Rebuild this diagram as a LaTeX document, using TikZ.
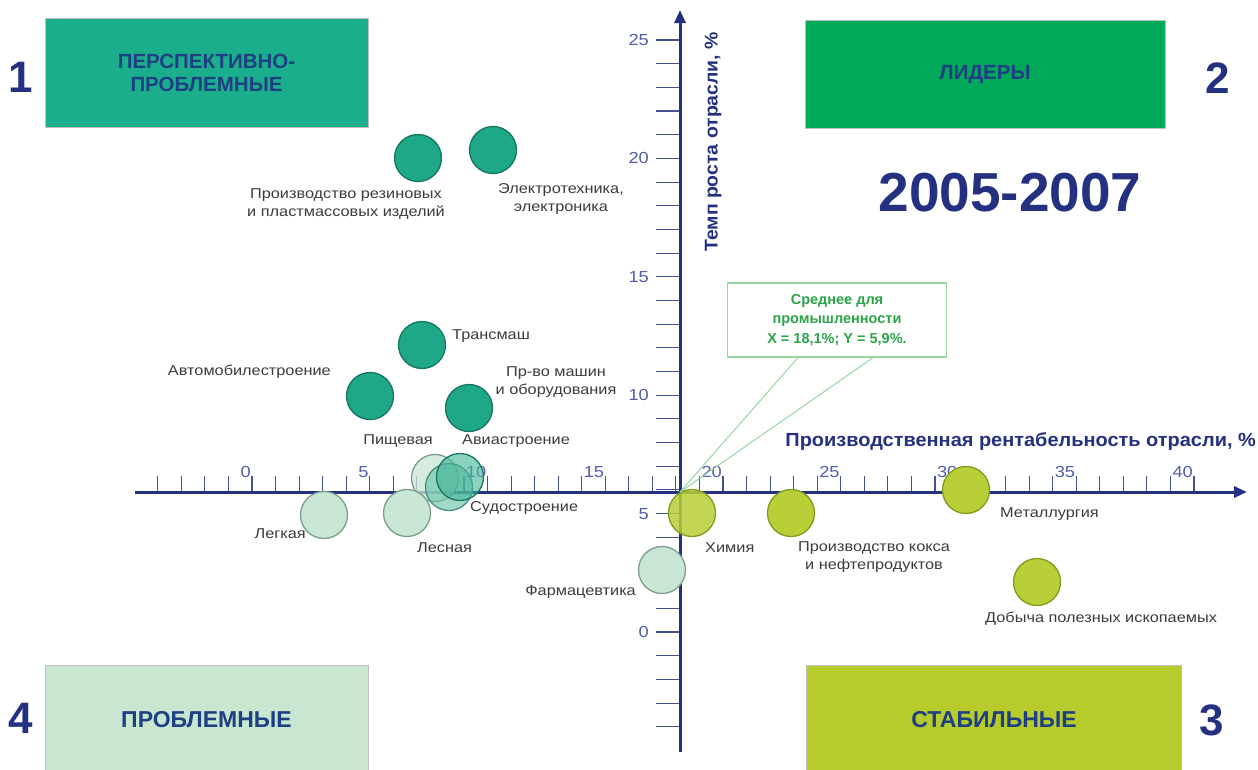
\documentclass[tikz,border=0pt]{standalone}
\usepackage{fontspec}
\setmainfont{Liberation Sans}
\newfontfamily\lblfont[FakeStretch=1.14]{Liberation Sans}
\newfontfamily\titlefont[FakeStretch=1.05]{Liberation Sans}
\usetikzlibrary{arrows.meta}

\definecolor{navy}{RGB}{36,48,128}
\definecolor{ticktext}{RGB}{84,94,170}
\definecolor{boxtext}{RGB}{30,64,130}
\definecolor{qteal}{RGB}{26,174,140}
\definecolor{qgreen}{RGB}{0,168,89}
\definecolor{qpale}{RGB}{200,230,208}
\definecolor{qlime}{RGB}{183,204,44}
\definecolor{bubdark}{RGB}{30,168,136}
\definecolor{bubdarkline}{RGB}{22,118,98}
\definecolor{bubpale}{RGB}{202,230,212}
\definecolor{bubpaleline}{RGB}{120,160,140}
\definecolor{bublime}{RGB}{186,206,56}
\definecolor{bublimeline}{RGB}{128,156,30}
\definecolor{lbltext}{RGB}{60,60,60}
\definecolor{avgtext}{RGB}{44,164,72}
\definecolor{avgline}{RGB}{150,214,165}

\tikzset{
  qbox/.style={rectangle, inner sep=0pt, draw=black!25, line width=0.8pt,
    text=boxtext, align=center, font=\bfseries\fontsize{20.5}{23}\selectfont},
  qnum/.style={inner sep=0pt, text=navy, font=\bfseries\fontsize{44}{44}\selectfont},
  bub/.style={circle, minimum size=47pt, inner sep=0pt, line width=1.3pt},
  darkbub/.style={bub, fill=bubdark, draw=bubdarkline},
  palebub/.style={bub, fill=bubpale, draw=bubpaleline},
  limebub/.style={bub, fill=bublime, draw=bublimeline},
  lbl/.style={inner sep=0pt, text=lbltext, align=center,
    font=\lblfont\fontsize{14.3}{18}\selectfont},
  axisline/.style={draw=navy, line width=3pt, -{Triangle[length=13pt,width=11pt]}},
  tickline/.style={draw=navy!85, line width=1.1pt},
  ticklbl/.style={inner sep=0pt, text=ticktext, font=\lblfont\fontsize{16}{16}\selectfont},
  axtitle/.style={inner sep=0pt, text=navy, font=\titlefont\bfseries\fontsize{19}{19}\selectfont},
  calloutline/.style={draw=avgline, line width=1pt},
}

\begin{document}
\begin{tikzpicture}[x=1pt,y=-1pt]
\useasboundingbox (0,0) rectangle (1258,769);
\fill[white] (0,0) rectangle (1258,769);

% quadrant headers
\node[qbox, fill=qteal, minimum width=323pt, minimum height=109pt] (q1) at (206.5,72.5)
  {ПЕРСПЕКТИВНО-\\ПРОБЛЕМНЫЕ};
\node[qbox, fill=qgreen, minimum width=360pt, minimum height=108pt] (q2) at (985,74) {ЛИДЕРЫ};
\node[qbox, fill=qpale, minimum width=323pt, minimum height=110pt,
      font=\bfseries\fontsize{23}{23}\selectfont] (q4) at (206.5,720) {ПРОБЛЕМНЫЕ};
\node[qbox, fill=qlime, minimum width=375pt, minimum height=110pt,
      font=\bfseries\fontsize{23}{23}\selectfont] (q3) at (994,720) {СТАБИЛЬНЫЕ};
\node[qnum] (n1) at (21,77) {1};
\node[qnum] (n2) at (1218,78) {2};
\node[qnum] (n4) at (21,718) {4};
\node[qnum] (n3) at (1212,720) {3};

% period
\node[inner sep=0pt, text=navy, font=\bfseries\fontsize{55}{55}\selectfont] (period) at (1010,193) {2005-2007};

% axes: x = 252 + 23.55 v, y = 632 - 23.68 v
\coordinate (xstart) at (135,492);
\coordinate (xend) at (1247,492);
\coordinate (ystart) at (680,752);
\coordinate (yend) at (680,10);
\coordinate (origin) at (680,492);

\foreach \v in {-4,...,40} {
  \draw[tickline] ({252+23.55*\v},492) -- ++(0,-16);
}
\foreach \v in {0,5,...,40} {
  \node[ticklbl, anchor=south east] (xl\v) at ({251+23.55*\v},478) {\v};
}
\foreach \v in {-4,...,25} {
  \draw[tickline] (656,{632-23.68*\v}) -- (680,{632-23.68*\v});
}
\foreach \v in {0,5,...,25} {
  \node[ticklbl, anchor=east] (yl\v) at (649,{632-23.68*\v}) {\v};
}
\draw[axisline] (xstart) -- (xend);
\draw[axisline] (ystart) -- (yend);

\node[axtitle, anchor=south east] (xtitle) at (1256,451) {Производственная рентабельность отрасли, \%};
\node[axtitle, rotate=90, font=\titlefont\bfseries\fontsize{18.5}{18.5}\selectfont] (ytitle) at (713,142) {Темп роста отрасли, \%};

% industry bubbles
\node[darkbub] (rubber) at (418,158) {};
\node[darkbub] (electro) at (493,150) {};
\node[darkbub] (transm) at (422,345) {};
\node[darkbub] (auto) at (370,396) {};
\node[darkbub] (machine) at (469,408) {};

\node[palebub, fill opacity=0.75] (food) at (435,478) {};
\node[bub, fill=bubdark!60!bubpale, draw=bubdarkline!80, fill opacity=0.6] (ship) at (449,487) {};
\node[bub, fill=bubdark!80!bubpale, draw=bubdarkline, fill opacity=0.6] (aero) at (460,477) {};

\node[palebub] (light) at (324,515) {};
\node[palebub] (forest) at (407,513) {};
\node[palebub] (pharma) at (662,570) {};

\node[limebub, fill opacity=0.85] (chem) at (692,513) {};
\node[limebub] (coke) at (791,513) {};
\node[limebub] (metal) at (966,490) {};
\node[limebub] (mining) at (1037,582) {};

% bubble captions
\node[lbl] (rubberl) at (346,204) {Производство резиновых\\и пластмассовых изделий};
\node[lbl] (electrol) at (561,199) {Электротехника,\\электроника};
\node[lbl, anchor=west] (transml) at (452,336) {Трансмаш};
\node[lbl, anchor=east] (autol) at (331,372) {Автомобилестроение};
\node[lbl] (machinel) at (556,382) {Пр-во машин\\и оборудования};
\node[lbl, anchor=east] (foodl) at (433,441) {Пищевая};
\node[lbl, anchor=west] (aerol) at (462,441) {Авиастроение};
\node[lbl, anchor=west] (shipl) at (470,508) {Судостроение};
\node[lbl, anchor=east] (lightl) at (306,534) {Легкая};
\node[lbl, anchor=west] (forestl) at (417,548) {Лесная};
\node[lbl, anchor=east] (pharmal) at (636,592) {Фармацевтика};
\node[lbl, anchor=west] (cheml) at (705,548) {Химия};
\node[lbl] (cokel) at (874,557) {Производство кокса\\и нефтепродуктов};
\node[lbl, anchor=west] (metall) at (1000,514) {Металлургия};
\node[lbl, anchor=west] (miningl) at (985,619) {Добыча полезных ископаемых};

% industry average callout
\node[rectangle, draw=avgline, line width=1.2pt, fill=white, minimum width=219pt,
      minimum height=74pt, inner sep=0pt, align=center, text=avgtext,
      font=\bfseries\fontsize{14.5}{19.5}\selectfont] (avg) at (837,320)
  {Среднее для\\промышленности\\X = 18,1\%; Y = 5,9\%.};
\draw[calloutline] ([xshift=-39pt]avg.south) -- (origin);
\draw[calloutline] ([xshift=36pt]avg.south) -- (origin);
\end{tikzpicture}
\end{document}
